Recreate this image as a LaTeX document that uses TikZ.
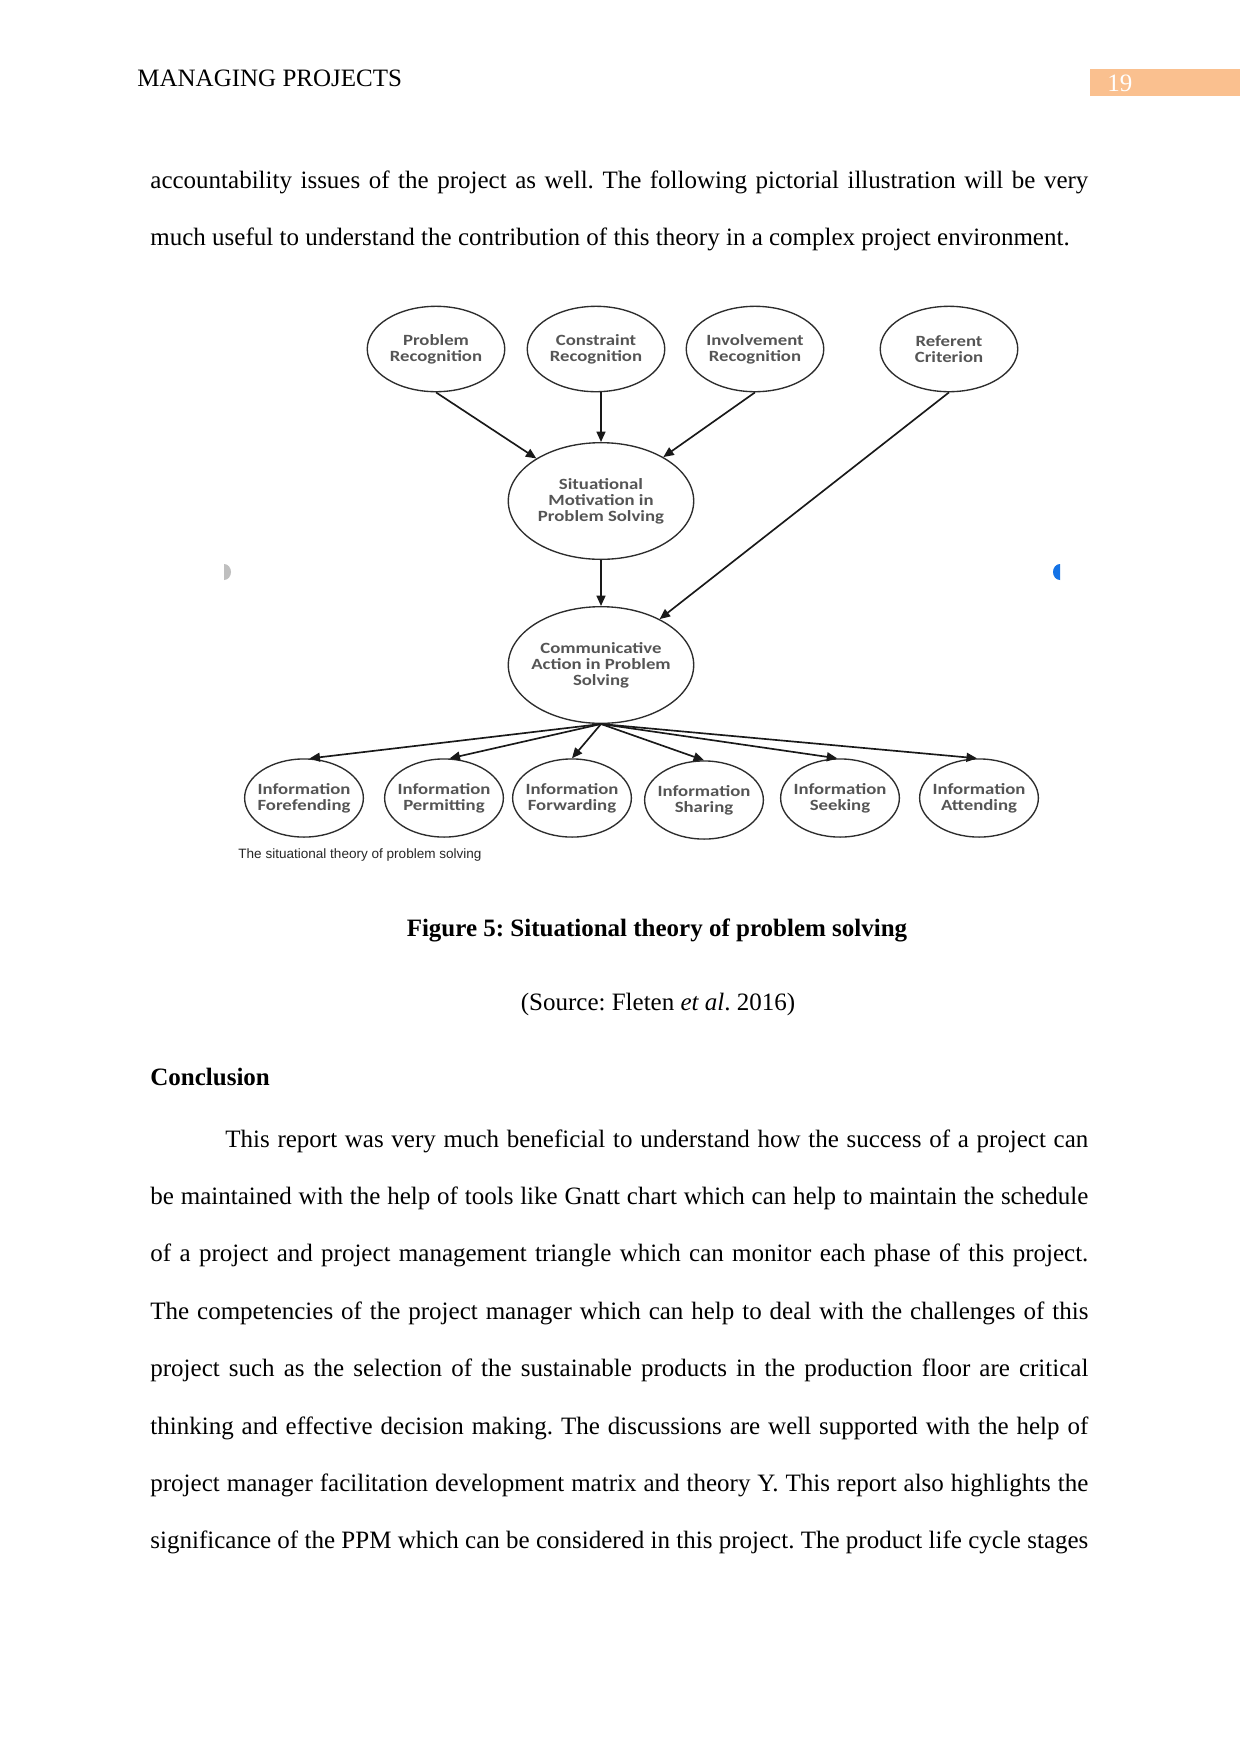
\documentclass[tikz,border=0pt]{standalone}
\usepackage{fontspec}
\setmainfont{Liberation Serif}
\newfontfamily\diagfont[FakeStretch=1.2]{Carlito}
\newfontfamily\capsans{Liberation Sans}
\usetikzlibrary{shapes.geometric,arrows.meta}
\definecolor{peach}{RGB}{250,192,143}
\definecolor{linec}{RGB}{45,45,45}
\definecolor{textc}{RGB}{85,85,85}
\definecolor{handleblue}{RGB}{20,115,230}
\newcommand\diagtext{\diagfont\bfseries\fontsize{7.5}{7.6}\selectfont}
\frenchspacing
\tikzset{
  bodyline/.style={anchor=base west, inner sep=0pt, font=\fontsize{12}{14}\selectfont},
  ellbase/.style={ellipse, draw=linec, line width=0.65pt, inner sep=-10pt, font=\diagtext, text=textc, align=center},
  topell/.style={ellbase, minimum width=66pt, minimum height=41pt},
  midell/.style={ellbase, minimum width=89pt, minimum height=56pt},
  botell/.style={ellbase, minimum width=57pt, minimum height=37.5pt},
  conn/.style={draw=black!90, line width=0.8pt, -{Triangle[length=5pt,width=4.3pt]}}
}
\begin{document}
\begin{tikzpicture}[x=0.48pt,y=-0.48pt]
\useasboundingbox (0,0) rectangle (1241,1754);
\fill[white] (0,0) rectangle (1241,1754);

% header
\node[bodyline] (hdr) at (137,86) {MANAGING PROJECTS};
\fill[peach] (1090,69) rectangle (1240,96);
\node[bodyline, text=white] (pno) at (1107,91) {19};

% top paragraph
\node[bodyline] (t1) at (150,188) {\makebox[450.2pt][s]{accountability issues of the project as well. The following pictorial illustration will be very}};
\node[bodyline] (t2) at (150,245) {much useful to understand the contribution of this theory in a complex project environment.};

% diagram
\node[topell] (pr) at (436,349) {Problem\\Recognition};
\node[topell] (cr) at (596,349) {Constraint\\Recognition};
\node[topell] (ir) at (755,349) {Involvement\\Recognition};
\node[topell] (rc) at (949,349) {Referent\\Criterion};
\node[midell] (sm) at (601,501) {Situational\\Motivation in\\Problem Solving};
\node[midell] (ca) at (601,665) {Communicative\\Action in Problem\\Solving};
\node[botell] (b1) at (304,798) {Information\\Forefending};
\node[botell] (b2) at (444,798) {Information\\Permitting};
\node[botell] (b3) at (572,798) {Information\\Forwarding};
\node[botell] (b4) at (704,800) {Information\\Sharing};
\node[botell] (b5) at (840,798) {Information\\Seeking};
\node[botell] (b6) at (979,798) {Information\\Attending};

\draw[conn] (pr.south) -- (sm);
\draw[conn] (cr.south -| sm.north) -- (sm.north);
\draw[conn] (ir.south) -- (sm);
\draw[conn] (rc.south) -- (ca);
\draw[conn] (sm.south) -- (ca.north);
\draw[conn] (ca.south) -- (b1.82);
\draw[conn] (ca.south) -- (b2.82);
\draw[conn] (ca.south) -- (b3.north);
\draw[conn] (ca.south) -- (b4.north);
\draw[conn] (ca.south) -- (b5.94);
\draw[conn] (ca.south) -- (b6.93);

\node[anchor=base west, inner sep=0pt, font=\capsans\fontsize{6.5}{7}\selectfont, text=black!85] (dcap) at (238,858) {The situational theory of problem solving};

% image handles
\fill[black!25] (224,564) arc[start angle=-90,end angle=90,x radius=7,y radius=8] -- cycle;
\fill[handleblue] (1060,564) arc[start angle=-90,end angle=-270,x radius=7,y radius=8] -- cycle;

% captions
\node[anchor=base, inner sep=0pt, font=\bfseries\fontsize{12}{14}\selectfont] (fig) at (657,936) {Figure 5: Situational theory of problem solving};
\node[anchor=base, inner sep=0pt, font=\fontsize{12}{14}\selectfont] (src) at (658,1010) {(Source: Fleten \textit{et al}. 2016)};

% conclusion
\node[bodyline, font=\bfseries\fontsize{12}{14}\selectfont] (conc) at (150,1085) {Conclusion};
\node[bodyline] (c1) at (225,1147) {\makebox[414.2pt][s]{This report was very much beneficial to understand how the success of a project can}};
\node[bodyline] (c2) at (150,1204.4) {\makebox[450.2pt][s]{be maintained with the help of tools like Gnatt chart which can help to maintain the schedule}};
\node[bodyline] (c3) at (150,1261.8) {\makebox[450.2pt][s]{of a project and project management triangle which can monitor each phase of this project.}};
\node[bodyline] (c4) at (150,1319.2) {\makebox[450.2pt][s]{The competencies of the project manager which can help to deal with the challenges of this}};
\node[bodyline] (c5) at (150,1376.6) {\makebox[450.2pt][s]{project such as the selection of the sustainable products in the production floor are critical}};
\node[bodyline] (c6) at (150,1434) {\makebox[450.2pt][s]{thinking and effective decision making. The discussions are well supported with the help of}};
\node[bodyline] (c7) at (150,1491.4) {\makebox[450.2pt][s]{project manager facilitation development matrix and theory Y. This report also highlights the}};
\node[bodyline] (c8) at (150,1548.8) {\makebox[450.2pt][s]{significance of the PPM which can be considered in this project. The product life cycle stages}};
\end{tikzpicture}
\end{document}
